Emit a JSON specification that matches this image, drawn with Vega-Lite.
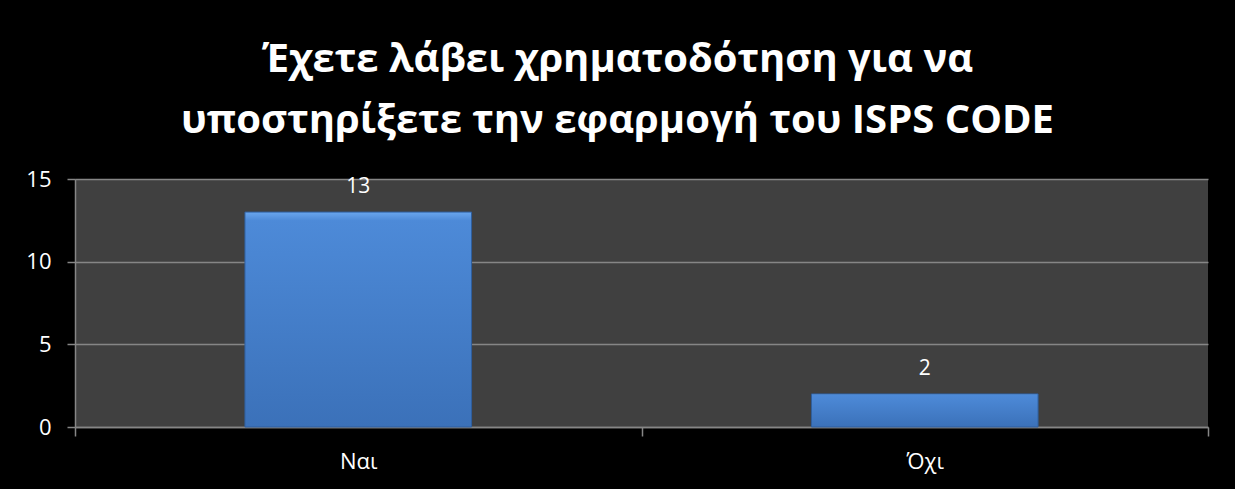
{
  "$schema": "https://vega.github.io/schema/vega-lite/v6.json",
  "width": 1133,
  "height": 248,
  "autosize": "none",
  "padding": {"left": 75, "top": 179, "right": 27, "bottom": 62},
  "background": "#000000",
  "title": {
    "text": ["Έχετε λάβει χρηματοδότηση για να", "υποστηρίξετε την εφαρμογή του ISPS CODE"],
    "font": "Open Sans",
    "fontSize": 40,
    "fontWeight": "bold",
    "color": "#ffffff",
    "lineHeight": 61,
    "anchor": "middle",
    "dx": -24,
    "offset": 27
  },
  "data": {
    "values": [
      {"answer": "Ναι", "count": 13},
      {"answer": "Όχι", "count": 2}
    ]
  },
  "encoding": {
    "x": {
      "field": "answer",
      "type": "nominal",
      "sort": null,
      "scale": {"paddingInner": 0, "paddingOuter": 0},
      "axis": {
        "title": null,
        "labelAngle": 0,
        "labelFont": "Open Sans",
        "labelFontSize": 22,
        "labelColor": "#ffffff",
        "labelPadding": 15,
        "tickBand": "extent",
        "ticks": true,
        "tickSize": 9,
        "tickColor": "#868686",
        "tickWidth": 1.5,
        "domainColor": "#868686",
        "domainWidth": 1.5,
        "grid": false
      }
    },
    "y": {
      "field": "count",
      "type": "quantitative",
      "scale": {"domain": [0, 15]},
      "axis": {
        "title": null,
        "values": [0, 5, 10, 15],
        "labelFont": "Open Sans",
        "labelFontSize": 22,
        "labelColor": "#ffffff",
        "labelPadding": 16,
        "tickSize": 8,
        "tickColor": "#868686",
        "tickWidth": 1.5,
        "domainColor": "#868686",
        "domainWidth": 1.5,
        "grid": true,
        "gridColor": "#868686",
        "gridWidth": 1.5
      }
    }
  },
  "layer": [
    {
      "mark": {
        "type": "bar",
        "width": {"band": 0.4},
        "stroke": "#2f5f9e",
        "strokeWidth": 1,
        "color": {
          "gradient": "linear",
          "x1": 0, "y1": 0, "x2": 0, "y2": 1,
          "stops": [
            {"offset": 0, "color": "#6aa6ee"},
            {"offset": 0.04, "color": "#4d8ad8"},
            {"offset": 1, "color": "#3b71b9"}
          ]
        }
      }
    },
    {
      "mark": {
        "type": "text",
        "font": "Open Sans",
        "fontSize": 21,
        "color": "#ffffff",
        "baseline": "alphabetic",
        "dy": -19
      },
      "encoding": {
        "text": {"field": "count", "type": "quantitative"}
      }
    }
  ],
  "config": {
    "view": {"fill": "#404040", "stroke": null}
  }
}
